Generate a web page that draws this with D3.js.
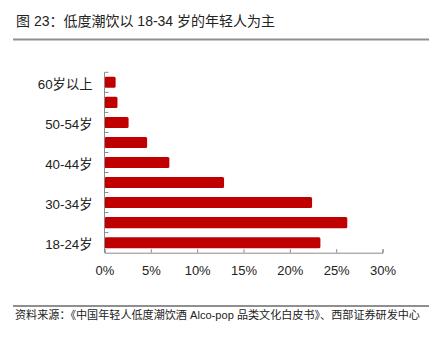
<!DOCTYPE html>
<html>
<head>
<meta charset="utf-8">
<script src="https://cdn.jsdelivr.net/npm/d3@7"></script>
<style>
  html, body { margin: 0; padding: 0; background: #fff; }
  svg { display: block; }
</style>
</head>
<body>
<svg id="chart" width="442" height="344"></svg>
<script>
// Age groups, oldest at the top
const categories = ["60岁以上", "55-59岁", "50-54岁", "45-49岁", "40-44岁", "35-39岁", "30-34岁", "25-29岁", "18-24岁"];
// Share of low-alcohol drinkers in each age group (%)
const shares = [1.2, 1.4, 2.6, 4.6, 7.0, 12.9, 22.4, 26.2, 23.3];
// Only every other age group is labelled on the axis
const shownLabels = ["60岁以上", "50-54岁", "40-44岁", "30-34岁", "18-24岁"];
const xTicks = [0, 5, 10, 15, 20, 25, 30];

const title = "图 23：低度潮饮以 18-34 岁的年轻人为主";
const source = "资料来源：《中国年轻人低度潮饮酒 Alco-pop 品类文化白皮书》、西部证券研发中心";

const svg = d3.select("#chart");
const font = '"Liberation Sans", Arial, "Noto Sans CJK SC", sans-serif';

// Header and footer
svg.append("text")
  .attr("x", 16).attr("y", 26)
  .attr("font-family", font).attr("font-size", 14).attr("fill", "#222")
  .text(title);
svg.append("line")
  .attr("x1", 13).attr("x2", 429).attr("y1", 39.5).attr("y2", 39.5)
  .attr("stroke", "#8f8f8f").attr("stroke-width", 1.8);
svg.append("line")
  .attr("x1", 13).attr("x2", 429).attr("y1", 306).attr("y2", 306)
  .attr("stroke", "#8f8f8f").attr("stroke-width", 1.8);
svg.append("text")
  .attr("x", 15).attr("y", 319)
  .attr("font-family", font).attr("font-size", 11.1).attr("fill", "#222")
  .text(source);

// Plot area
const x = d3.scaleLinear().domain([0, 30]).range([104.5, 382.5]);
const y = d3.scaleBand().domain(categories).range([72.3, 252.7]).paddingInner(0.45).paddingOuter(0.225);

const axisColor = "#8a8a8a";

// Bars
svg.append("g").selectAll("rect")
  .data(categories)
  .join("rect")
  .attr("x", x(0))
  .attr("y", d => y(d))
  .attr("width", (d, i) => x(shares[i]) - x(0))
  .attr("height", y.bandwidth())
  .attr("rx", 1.5)
  .attr("fill", "#C00000");

// X axis (ticks pointing into the plot)
const xAxis = svg.append("g")
  .attr("transform", `translate(0,${252.7})`)
  .call(d3.axisBottom(x).tickValues(xTicks).tickSize(-3.5).tickPadding(10.5).tickFormat(d => d + "%"));
xAxis.select(".domain").attr("stroke", axisColor);
xAxis.selectAll(".tick line").attr("stroke", axisColor);
xAxis.selectAll(".tick text")
  .attr("font-family", font).attr("font-size", 13).attr("fill", "#222").attr("dy", "0.9em");

// Y axis: band boundaries carry the tick marks
const yAxis = svg.append("g").attr("transform", `translate(${x(0)},0)`);
yAxis.append("line")
  .attr("x1", 0).attr("x2", 0).attr("y1", 72.3).attr("y2", 252.7)
  .attr("stroke", axisColor);
const step = y.step();
const bounds = d3.range(categories.length).map(i => 72.3 + i * step);
yAxis.selectAll(".btick")
  .data(bounds)
  .join("line")
  .attr("class", "btick")
  .attr("x1", 0).attr("x2", 4)
  .attr("y1", d => d).attr("y2", d => d)
  .attr("stroke", axisColor);
yAxis.selectAll(".ylabel")
  .data(categories.filter(c => shownLabels.includes(c)))
  .join("text")
  .attr("class", "ylabel")
  .attr("x", -12)
  .attr("y", d => y(d) + y.bandwidth() / 2 + 2)
  .attr("dy", "0.35em")
  .attr("text-anchor", "end")
  .attr("font-family", font).attr("font-size", 13.3).attr("fill", "#222")
  .text(d => d);
</script>
</body>
</html>
